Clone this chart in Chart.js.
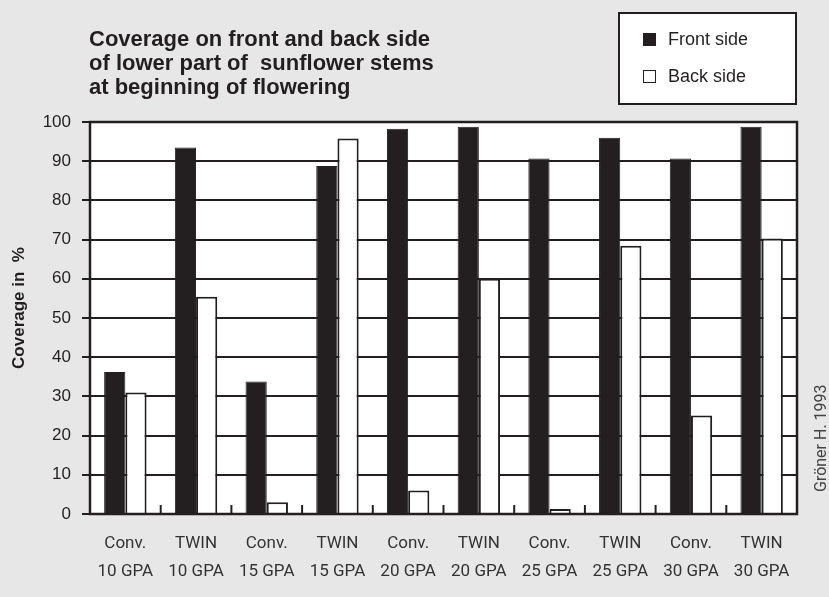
<!DOCTYPE html>
<html>
<head>
<meta charset="utf-8">
<script src="https://cdn.jsdelivr.net/npm/chart.js@4.4.1/dist/chart.umd.min.js"></script>
<style>
  html, body { margin: 0; padding: 0; background: #e6e7e6; }
  #wrap { width: 829px; height: 597px; }
</style>
</head>
<body>
<div id="wrap"><canvas id="coverageChart" width="829" height="597"></canvas></div>
<script>
// data
const categories = [
  ['Conv.', '10 GPA'], ['TWIN', '10 GPA'], ['Conv.', '15 GPA'], ['TWIN', '15 GPA'],
  ['Conv.', '20 GPA'], ['TWIN', '20 GPA'], ['Conv.', '25 GPA'], ['TWIN', '25 GPA'],
  ['Conv.', '30 GPA'], ['TWIN', '30 GPA']
];
const frontSide = [36.2, 93.5, 33.8, 88.8, 98.3, 98.8, 90.7, 96.0, 90.7, 98.8];
const backSide = [31.0, 55.4, 3.0, 95.8, 6.0, 60.0, 1.3, 68.4, 25.1, 70.3];
const titleLines = ['Coverage on front and back side', 'of lower part of  sunflower stems', 'at beginning of flowering'];
const seriesNames = ['Front side', 'Back side'];
const yTicks = [0, 10, 20, 30, 40, 50, 60, 70, 80, 90, 100];
const yTitle = 'Coverage in  %';
const credit = 'Gröner H. 1993';

const ink = '#231f20';
const bg = '#e6e7e6';

// background, white plot area, frame, x ticks, title, legend box, credit
Chart.register({
  id: 'decor',
  beforeDraw(chart) {
    const { ctx, chartArea } = chart;
    ctx.save();
    ctx.fillStyle = bg;
    ctx.fillRect(0, 0, chart.width, chart.height);
    ctx.fillStyle = '#ffffff';
    ctx.fillRect(chartArea.left, chartArea.top, chartArea.right - chartArea.left, chartArea.bottom - chartArea.top);
    ctx.restore();
  },
  afterDatasetsDraw(chart) {
    const { ctx, chartArea } = chart;
    const x = chart.scales.x;
    ctx.save();
    ctx.strokeStyle = ink;
    ctx.lineWidth = 2.5;
    ctx.strokeRect(chartArea.left, chartArea.top, chartArea.right - chartArea.left, chartArea.bottom - chartArea.top);
    // small ticks between categories, pointing up
    ctx.lineWidth = 2;
    for (let i = 0; i < categories.length - 1; i++) {
      const px = (x.getPixelForTick(i) + x.getPixelForTick(i + 1)) / 2;
      ctx.beginPath();
      ctx.moveTo(px, chartArea.bottom);
      ctx.lineTo(px, chartArea.bottom - 9);
      ctx.stroke();
    }
    ctx.restore();
  },
  afterDraw(chart) {
    const { ctx } = chart;
    ctx.save();
    // title
    ctx.fillStyle = ink;
    ctx.font = 'bold 22px "Liberation Sans", Arial';
    ctx.textBaseline = 'alphabetic';
    ctx.textAlign = 'left';
    titleLines.forEach((t, i) => ctx.fillText(t, 89, 46 + i * 24));
    // legend box
    ctx.fillStyle = '#ffffff';
    ctx.fillRect(619, 13, 177, 91);
    ctx.strokeStyle = ink;
    ctx.lineWidth = 2;
    ctx.strokeRect(619, 13, 177, 91);
    ctx.fillStyle = ink;
    ctx.fillRect(643, 33, 13, 13);
    ctx.fillStyle = '#ffffff';
    ctx.fillRect(643, 70, 13, 13);
    ctx.lineWidth = 1;
    ctx.strokeRect(643.5, 70.5, 12, 12);
    ctx.fillStyle = ink;
    ctx.font = '18px "Liberation Sans", Arial';
    ctx.textBaseline = 'middle';
    ctx.fillText(seriesNames[0], 668, 40);
    ctx.fillText(seriesNames[1], 668, 77);
    // y axis title
    ctx.save();
    ctx.translate(19, 308);
    ctx.rotate(-Math.PI / 2);
    ctx.textAlign = 'center';
    ctx.font = 'bold 17px "Liberation Sans", Arial';
    ctx.fillText(yTitle, 0, 0);
    ctx.restore();
    // credit on the right
    ctx.translate(826, 492);
    ctx.rotate(-Math.PI / 2);
    ctx.textBaseline = 'alphabetic';
    ctx.font = '16px Roboto, "Liberation Sans"';
    ctx.fillStyle = '#444';
    ctx.fillText(credit, 0, 0);
    ctx.restore();
  }
});

const ctx = document.getElementById('coverageChart').getContext('2d');
const coverageChart = new Chart(ctx, {
  type: 'bar',
  data: {
    labels: categories,
    datasets: [{
      label: seriesNames[0],
      data: frontSide,
      backgroundColor: ink,
      borderColor: ink,
      borderWidth: 1
    }, {
      label: seriesNames[1],
      data: backSide,
      backgroundColor: '#ffffff',
      borderColor: ink,
      borderWidth: 2
    }]
  },
  options: {
    responsive: false,
    animation: false,
    datasets: { bar: { categoryPercentage: 0.6, barPercentage: 1.0 } },
    layout: { padding: { left: 0, top: 122, right: 32, bottom: 0 } },
    plugins: {
      legend: { display: false },
      tooltip: { enabled: false },
      title: { display: false }
    },
    scales: {
      x: {
        afterFit(scale) { scale.height = 83; },
        grid: { display: false },
        border: { display: false },
        ticks: {
          color: '#333',
          padding: 8,
          maxRotation: 0,
          autoSkip: false,
          font: { family: 'Roboto, "Liberation Sans"', size: 17, lineHeight: 1.65 }
        }
      },
      y: {
        min: 0,
        max: 100,
        afterFit(scale) { scale.width = 90; },
        afterBuildTicks(scale) { scale.ticks = yTicks.map(v => ({ value: v })); },
        grid: { color: ink, lineWidth: 2, tickLength: 8, tickColor: ink },
        border: { display: false },
        ticks: {
          color: ink,
          padding: 11,
          font: { family: '"Liberation Sans", Arial', size: 17 }
        }
      }
    }
  }
});
</script>
</body>
</html>
